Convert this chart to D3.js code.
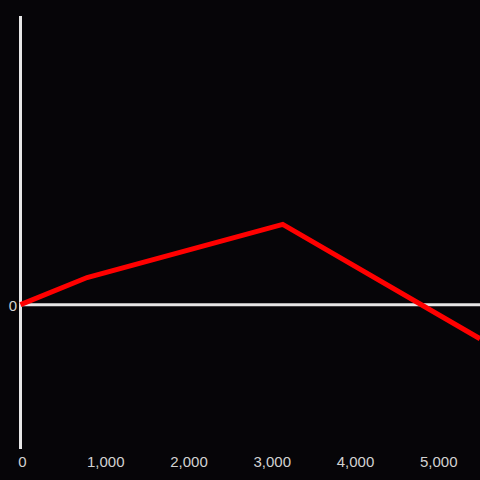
<!DOCTYPE html>
<html><head><meta charset="utf-8">
<script src="https://cdn.jsdelivr.net/npm/d3@7"></script>
<style>html,body{margin:0;padding:0;background:#060508;}svg{display:block;}</style>
</head><body>
<script>
const xValues = [0, 800, 3150, 5520];
const yValues = [0, 9.4, 27.8, -11.8];
const xTicks = [0, 1000, 2000, 3000, 4000, 5000];
const yTicks = [0];

const W = 480, H = 480;
const svg = d3.select("body").append("svg").attr("width", W).attr("height", H)
  .style("background", "#060508");

const x = d3.scaleLinear().domain([0, 5520]).range([20.5, 480]);
const y = d3.scaleLinear().domain([-50, 100]).range([449, 16]);

// y axis line
svg.append("line").attr("x1", x(0)).attr("x2", x(0)).attr("y1", y(100)).attr("y2", y(-50))
  .attr("stroke", "#e6e6e6").attr("stroke-width", 3);
// zero line
svg.append("line").attr("x1", x(0)).attr("x2", W).attr("y1", y(0)).attr("y2", y(0))
  .attr("stroke", "#e6e6e6").attr("stroke-width", 3);

const font = "'Liberation Sans', Arial, sans-serif";
// x tick labels
const xAxis = d3.axisBottom(x).tickValues(xTicks).tickSize(0).tickPadding(0)
  .tickFormat(d3.format(","));
const gx = svg.append("g").attr("transform", "translate(1.5,0)").call(xAxis);
gx.select(".domain").remove();
gx.selectAll("text").attr("fill", "#d2d2d2").style("font-family", font)
  .style("font-size", "15px").attr("y", 467).attr("dy", null);

// y tick labels
const yAxis = d3.axisLeft(y).tickValues(yTicks).tickSize(0).tickPadding(0);
const gy = svg.append("g").attr("transform", "translate(17,0)").call(yAxis);
gy.select(".domain").remove();
gy.selectAll("text").attr("fill", "#d2d2d2").style("font-family", font)
  .style("font-size", "15px").attr("dy", "0.36em");

// line
const data = xValues.map((v, i) => [v, yValues[i]]);
svg.append("path").datum(data)
  .attr("d", d3.line().x(d => x(d[0])).y(d => y(d[1])))
  .attr("fill", "none").attr("stroke", "#ff0000").attr("stroke-width", 5)
  .attr("stroke-linejoin", "miter");
</script>
</body></html>
